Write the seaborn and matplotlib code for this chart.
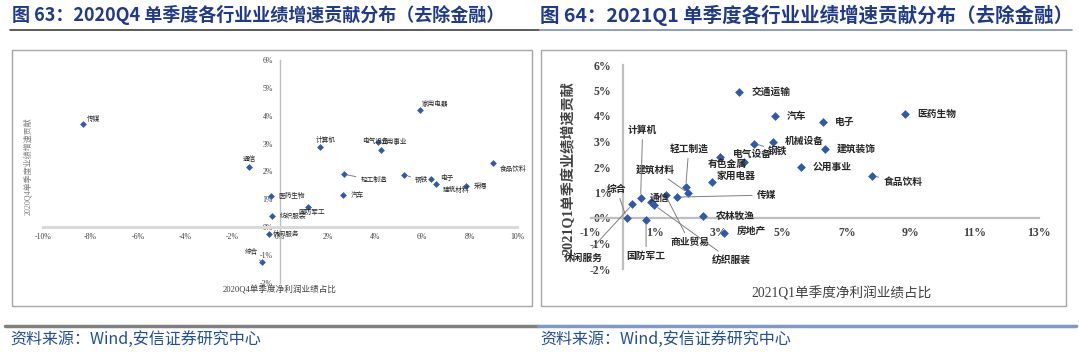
import matplotlib
matplotlib.use('Agg')
import matplotlib.pyplot as plt
import seaborn as sns
import pandas as pd
from matplotlib.patches import Rectangle
from matplotlib.lines import Line2D

W, H = 1079, 355

# ---- data (values in %) ----
q4_names = ['传媒', '通信', '医药生物', '纺织服装', '休闲服务', '综合', '国防军工', '计算机',
            '轻工制造', '汽车', '电气设备', '公用事业', '钢铁', '家用电器', '电子', '建筑材料',
            '采掘', '食品饮料']
q4_x = [-8.3, -1.3, -0.4, -0.35, -0.45, -0.78, 1.17, 1.69, 2.68, 2.65, 4.12, 4.27,
        5.24, 5.92, 6.36, 6.57, 7.84, 8.98]
q4_y = [3.7, 2.16, 1.1, 0.41, -0.25, -1.25, 0.72, 2.88, 1.9, 1.16, 3.06, 2.78,
        1.87, 4.22, 1.73, 1.53, 1.49, 2.29]

q1_names = ['交通运输', '汽车', '机械设备', '钢铁', '电气设备', '有色金属', '家用电器', '轻工制造',
            '建筑材料', '传媒', '商业贸易', '通信', '纺织服装', '计算机', '休闲服务', '综合',
            '国防军工', '农林牧渔', '房地产', '公用事业', '电子', '建筑装饰', '食品饮料', '医药生物']
q1_x = [3.64, 4.76, 4.69, 4.11, 3.79, 3.05, 2.78, 1.97, 2.04, 1.69, 1.34, 0.88,
        0.99, 0.56, 0.30, 0.12, 0.73, 2.52, 3.18, 5.56, 6.27, 6.33, 7.80, 8.83]
q1_y = [4.94, 3.99, 2.98, 2.92, 2.20, 2.39, 1.41, 1.22, 0.98, 0.82, 0.89, 0.63,
        0.50, 0.78, 0.53, 0.00, -0.09, 0.07, -0.57, 2.00, 3.76, 2.72, 1.65, 4.09]

q4_xticks = [-10, -8, -6, -4, -2, 0, 2, 4, 6, 8, 10]
q1_xticks = [-1, 1, 3, 5, 7, 9, 11, 13]
yticks = [-2, -1, 0, 1, 2, 3, 4, 5, 6]

# label placement: (dx px, dy px, ha, leader line)
q4_labels = {
    '传媒': (4, 5, 'left', False), '通信': (0, 8, 'center', False),
    '医药生物': (8, 0, 'left', False), '纺织服装': (8, 0, 'left', False),
    '休闲服务': (4, 0, 'left', False), '综合': (-4, 10, 'right', True),
    '国防军工': (4, -5, 'center', False), '计算机': (6, 7, 'center', False),
    '轻工制造': (17, -6, 'left', True), '汽车': (8, 0, 'left', False),
    '电气设备': (-2, 1, 'center', False), '公用事业': (-1, 8, 'left', False),
    '钢铁': (11, -5, 'left', True), '家用电器': (1, 6, 'left', False),
    '电子': (9, 1, 'left', False), '建筑材料': (7, -6, 'left', False),
    '采掘': (8, 0, 'left', False), '食品饮料': (7, -6, 'left', False),
}
q1_labels = {
    '交通运输': (12, 0, 'left', False), '汽车': (12, 0, 'left', False),
    '机械设备': (12, 1, 'left', False), '钢铁': (14, -7, 'left', True),
    '电气设备': (8, 8, 'center', False), '有色金属': (7, -7, 'center', False),
    '家用电器': (5, 6, 'left', False), '轻工制造': (3, 38, 'center', True),
    '建筑材料': (-13, 23, 'right', True), '传媒': (80, 2, 'left', True),
    '商业贸易': (24, -47, 'center', True), '通信': (9, 4, 'center', False),
    '纺织服装': (57, -55, 'left', True), '计算机': (2, 68, 'center', True),
    '休闲服务': (-29, -53, 'right', True), '综合': (-10, 29, 'center', True),
    '国防军工': (0, -36, 'center', True), '农林牧渔': (13, 0, 'left', False),
    '房地产': (12, 2, 'left', False), '公用事业': (12, 0, 'left', False),
    '电子': (12, 0, 'left', False), '建筑装饰': (11, 0, 'left', False),
    '食品饮料': (11, -6, 'left', True), '医药生物': (12, 0, 'left', False),
}

sns.set_style('white')
plt.rcParams['font.family'] = ['Noto Sans CJK SC', 'DejaVu Sans']
plt.rcParams['axes.unicode_minus'] = False

CJK = ['Noto Sans CJK SC', 'DejaVu Sans']
SERIF = ['Liberation Serif', 'Noto Sans CJK SC']
BLUE = '#2F5AA8'
TITLE_C = '#1F3A8A'

fig = plt.figure(figsize=(W / 100, H / 100), dpi=100)


def px_rect(x0, y0, x1, y1):
    return [x0 / W, 1 - y1 / H, (x1 - x0) / W, (y1 - y0) / H]


def hline(x0, x1, y, color, lw):
    fig.add_artist(Line2D([x0 / W, x1 / W], [1 - y / H, 1 - y / H], color=color, lw=lw,
                          transform=fig.transFigure))


# panel boxes
for x0, x1 in [(12, 532), (541, 1066)]:
    fig.add_artist(Rectangle((x0 / W, 1 - 306 / H), (x1 - x0) / W, (306 - 50) / H,
                             transform=fig.transFigure, fill=False, ec='#A6A6A6', lw=1))


def draw(ax, names, xs, ys, labels, xticks, xlim, ms, lab_fs, lab_w, tick_fs, xpad, ypad,
         hcol, hlw, vcol, vlw):
    df = pd.DataFrame({'x': xs, 'y': ys, 'name': names})
    sns.scatterplot(data=df, x='x', y='y', ax=ax, marker='D', s=ms, color=BLUE,
                    edgecolor=BLUE, linewidth=0, zorder=3)
    ax.set_xlim(*xlim)
    ax.set_ylim(-2, 6)
    ax.patch.set_alpha(0)
    for s in ['top', 'right']:
        ax.spines[s].set_visible(False)
    ax.spines['left'].set_position(('data', 0))
    ax.spines['bottom'].set_position(('data', 0))
    ax.spines['bottom'].set_color(hcol)
    ax.spines['bottom'].set_linewidth(hlw)
    ax.spines['left'].set_color(vcol)
    ax.spines['left'].set_linewidth(vlw)
    ax.set_xticks(xticks)
    ax.set_xticklabels([f'{v}%' for v in xticks])
    ax.set_yticks(yticks)
    ax.set_yticklabels([f'{v}%' for v in yticks])
    ax.tick_params(axis='x', length=0, pad=xpad, labelsize=tick_fs, colors='#404040')
    ax.tick_params(axis='y', length=0, pad=ypad, labelsize=tick_fs, colors='#404040')
    for t in ax.get_xticklabels() + ax.get_yticklabels():
        t.set_family(SERIF)
    ax.set_xlabel('')
    ax.set_ylabel('')
    for n, x, y in zip(names, xs, ys):
        dx, dy, ha, lead = labels[n]
        kw = {}
        if lead:
            kw['arrowprops'] = dict(arrowstyle='-', color='#7F7F7F', lw=0.7,
                                    shrinkA=1, shrinkB=3)
        ax.annotate(n, xy=(x, y), xytext=(dx, dy), textcoords='offset pixels',
                    ha=ha, va='center', fontsize=lab_fs, color='#262626',
                    weight=lab_w, family=CJK, zorder=4, **kw)


# left chart: 2020Q4
ax1 = fig.add_axes(px_rect(43, 60.2, 517, 282.6))
draw(ax1, q4_names, q4_x, q4_y, q4_labels, q4_xticks, (-10, 10), 12, 4.8, 'normal', 5.6,
     4.3, 5, '#D9D9D9', 2.2, '#BFBFBF', 1.0)
fig.text(28 / W, 1 - 166 / H, '2020Q4单季度业绩增速贡献', rotation=90, ha='center',
         va='center', fontsize=5.8, color='#7F7F7F', family=SERIF)
fig.text(280 / W, 1 - 290 / H, '2020Q4单季度净利润业绩占比', ha='center', va='center',
         fontsize=6.2, color='#404040', family=SERIF)

# right chart: 2021Q1
ax2 = fig.add_axes(px_rect(590.7, 65, 1038.7, 269))
draw(ax2, q1_names, q1_x, q1_y, q1_labels, q1_xticks, (-1, 13), 20, 7, 'bold', 8.5,
     6.5, 8, '#BFBFBF', 1.6, '#BFBFBF', 1.6)
for t in ax2.get_xticklabels() + ax2.get_yticklabels():
    t.set_weight('bold')
fig.text(568 / W, 1 - 168 / H, '2021Q1单季度业绩增速贡献', rotation=90, ha='center',
         va='center', fontsize=10.2, color='#404040', family=SERIF, weight='bold')
fig.text(842 / W, 1 - 293 / H, '2021Q1单季度净利润业绩占比', ha='center', va='center',
         fontsize=9.8, color='#404040', family=SERIF)

# titles
fig.text(12 / W, 1 - 15 / H, '图 63：2020Q4 单季度各行业业绩增速贡献分布（去除金融）',
         ha='left', va='center', fontsize=13, weight='bold', color=TITLE_C, family=CJK)
fig.text(540 / W, 1 - 15 / H, '图 64：2021Q1 单季度各行业业绩增速贡献分布（去除金融）',
         ha='left', va='center', fontsize=14, weight='bold', color=TITLE_C, family=CJK)
hline(10, 539, 29.5, '#404040', 1.2)
hline(540, 1072, 29.5, '#7A8DBF', 1.2)

# footer
hline(5, 538, 326, '#808080', 2.5)
hline(538, 1076, 326, '#8097C9', 2.5)
fig.text(10 / W, 1 - 339 / H, '资料来源：Wind,安信证券研究中心', ha='left', va='center',
         fontsize=11.5, color='#1F4E9A', style='italic', family=CJK)
fig.text(540 / W, 1 - 339 / H, '资料来源：Wind,安信证券研究中心', ha='left', va='center',
         fontsize=11.5, color='#1F4E9A', style='italic', family=CJK)

fig.savefig('out.png', dpi=100, facecolor='white')
